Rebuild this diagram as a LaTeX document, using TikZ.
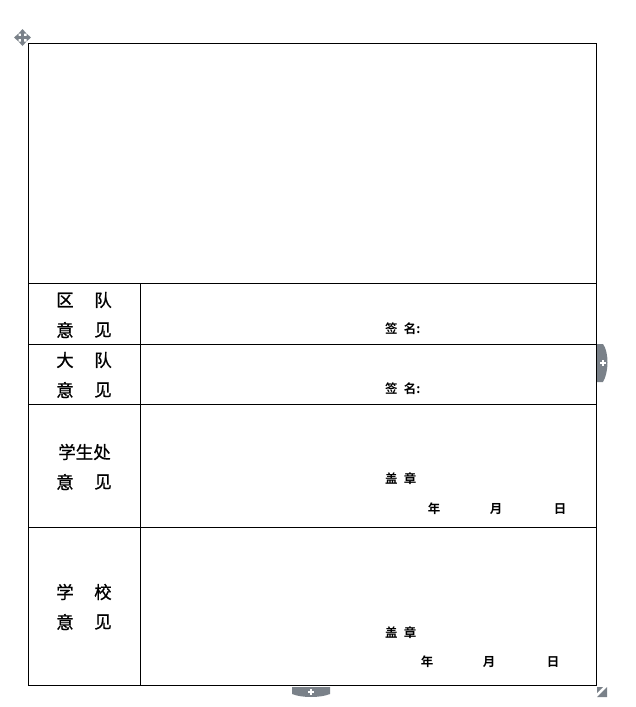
\documentclass[tikz,border=0pt]{standalone}
\usepackage{fontspec}
\newfontfamily\cjk[FakeBold=0.8]{Noto Sans CJK SC}
\newfontfamily\cjkb{Noto Sans CJK SC Bold}
\begin{document}
\begin{tikzpicture}[x=1pt,y=-1pt,
  grid/.style={line width=0.9pt, draw=black},
  lbl/.style={font=\cjk\fontsize{17.5}{17.5}\selectfont, inner sep=0pt, anchor=center},
  sml/.style={font=\cjkb\fontsize{12.5}{12.5}\selectfont, inner sep=0pt, anchor=center}]
\definecolor{uigray}{HTML}{7A8189}
\useasboundingbox (0,0) rectangle (636,707);
% table
\draw[grid] (28,43) rectangle (596,685);
\draw[grid] (28,283) -- (596,283);
\draw[grid] (28,344) -- (596,344);
\draw[grid] (28,404) -- (596,404);
\draw[grid] (28,527) -- (596,527);
\draw[grid] (140,283) -- (140,685);
% row labels
\node[lbl] (q1) at (65,300) {区};
\node[lbl] (q2) at (103,300) {队};
\node[lbl] (q3) at (65,330) {意};
\node[lbl] (q4) at (103,330) {见};
\node[lbl] (d1) at (65,360) {大};
\node[lbl] (d2) at (103,360) {队};
\node[lbl] (d3) at (65,390) {意};
\node[lbl] (d4) at (103,390) {见};
\node[lbl] (x1) at (84.5,452) {学生处};
\node[lbl] (x3) at (65,482) {意};
\node[lbl] (x4) at (103,482) {见};
\node[lbl] (s1) at (65,592) {学};
\node[lbl] (s2) at (103,592) {校};
\node[lbl] (s3) at (65,622) {意};
\node[lbl] (s4) at (103,622) {见};
% right column texts
\node[sml,anchor=west] (qm) at (385,329) {签\hspace{0.5em}名:};
\node[sml,anchor=west] (dm) at (385,389) {签\hspace{0.5em}名:};
\node[sml,anchor=west] (xg) at (385,479) {盖\hspace{0.5em}章};
\node[sml] (xy) at (434,509) {年};
\node[sml] (xm) at (496,509) {月};
\node[sml] (xd) at (560,509) {日};
\node[sml,anchor=west] (sg) at (385,633) {盖\hspace{0.5em}章};
\node[sml] (sy) at (427,662) {年};
\node[sml] (sm) at (489,662) {月};
\node[sml] (sd) at (553,662) {日};
% UI handles
\begin{scope}[fill=uigray, draw=none]
  % move handle
  \fill (22.5,29) -- (26.5,33.5) -- (18.5,33.5) -- cycle;
  \fill (22.5,46) -- (26.5,41.5) -- (18.5,41.5) -- cycle;
  \fill (14,37.5) -- (18.5,33.5) -- (18.5,41.5) -- cycle;
  \fill (31,37.5) -- (26.5,33.5) -- (26.5,41.5) -- cycle;
  \fill (21,32) rectangle (24,43);
  \fill (17,36) rectangle (28,39);
  % right tab
  \fill (597,344) -- (603,344) .. controls (609,352) and (609,372) .. (603,382) -- (597,382) -- cycle;
  % bottom tab
  \fill (292,687) -- (330,687) -- (330,694) .. controls (320,698) and (302,698) .. (292,694) -- cycle;
  % resize handle
  \fill (607,687) -- (607,697) -- (597,697) -- cycle;
  \fill (597,687) -- (603,687) -- (597,693) -- cycle;
\end{scope}
\fill[white] (600,362) rectangle (606,364);
\fill[white] (602,360) rectangle (604,366);
\fill[white] (308,690.5) rectangle (314,692.5);
\fill[white] (310,688.5) rectangle (312,694.5);
\end{tikzpicture}
\end{document}
